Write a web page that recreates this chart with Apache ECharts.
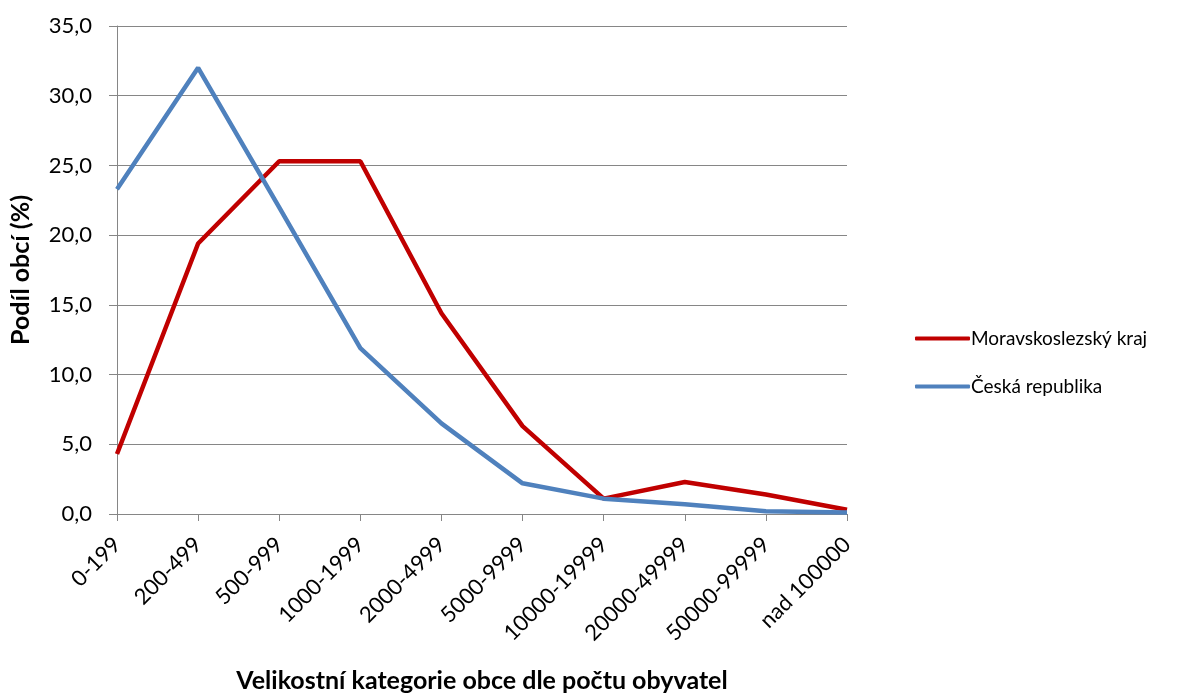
<!DOCTYPE html>
<html><head><meta charset="utf-8">
<script src="https://cdn.jsdelivr.net/npm/echarts@6/dist/echarts.min.js"></script>
<style>html,body{margin:0;padding:0;background:#fff}#c{width:1199px;height:693px}</style>
</head><body><div id="c"></div>
<script>
const categories = ['0-199','200-499','500-999','1000-1999','2000-4999','5000-9999','10000-19999','20000-49999','50000-99999','nad 100000'];
const msk = [4.3, 19.4, 25.3, 25.3, 14.4, 6.3, 1.1, 2.3, 1.4, 0.3];
const cr = [23.3, 32.0, 22.0, 11.9, 6.5, 2.2, 1.1, 0.7, 0.2, 0.1];
const seriesNames = ['Moravskoslezský kraj', 'Česká republika'];
const FONT = 'Lato, "Open Sans", sans-serif';
const chart = echarts.init(document.getElementById('c'));
chart.setOption({
  animation: false,
  textStyle: {fontFamily: FONT},
  grid: {left: 117, right: 352, top: 26, bottom: 179, containLabel: false, outerBoundsMode: 'none'},
  legend: {
    orient: 'vertical', left: 910, top: 324, itemWidth: 55, itemHeight: 4, itemGap: 29,
    icon: 'roundRect',
    textStyle: {fontSize: 19, color: '#000', fontFamily: FONT, padding: [0,0,0,-4]},
    data: seriesNames
  },
  xAxis: {
    type: 'category', data: categories, boundaryGap: false,
    name: 'Velikostní kategorie obce dle počtu obyvatel', nameLocation: 'middle', nameGap: 154,
    nameTextStyle: {fontSize: 25, fontWeight: 'bold', color: '#000', fontFamily: FONT},
    axisLine: {lineStyle: {color: '#868686', width: 1}},
    axisTick: {show: true, alignWithLabel: true, length: 7, lineStyle: {color: '#868686'}},
    axisLabel: {rotate: 45, fontSize: 22, color: '#000', margin: 27, interval: 0, fontFamily: FONT},
    splitLine: {show: false}
  },
  yAxis: {
    type: 'value', min: 0, max: 35, interval: 5,
    name: 'Podíl obcí (%)', nameLocation: 'middle', nameGap: 84, nameRotate: 90,
    nameTextStyle: {fontSize: 25, fontWeight: 'bold', color: '#000', fontFamily: FONT},
    axisLine: {show: true, lineStyle: {color: '#868686', width: 1}},
    axisTick: {show: true, length: 8, lineStyle: {color: '#868686'}},
    axisLabel: {fontSize: 22, color: '#000', margin: 25, formatter: v => v.toFixed(1).replace('.', ','), fontFamily: FONT},
    splitLine: {lineStyle: {color: '#868686', width: 1}}
  },
  series: [
    {name: seriesNames[0], type: 'line', data: msk, symbol: 'none', lineStyle: {color: '#C00000', width: 4.5}, itemStyle: {color: '#C00000'}},
    {name: seriesNames[1], type: 'line', data: cr, symbol: 'none', lineStyle: {color: '#4F81BD', width: 4.5}, itemStyle: {color: '#4F81BD'}}
  ]
});
</script></body></html>
